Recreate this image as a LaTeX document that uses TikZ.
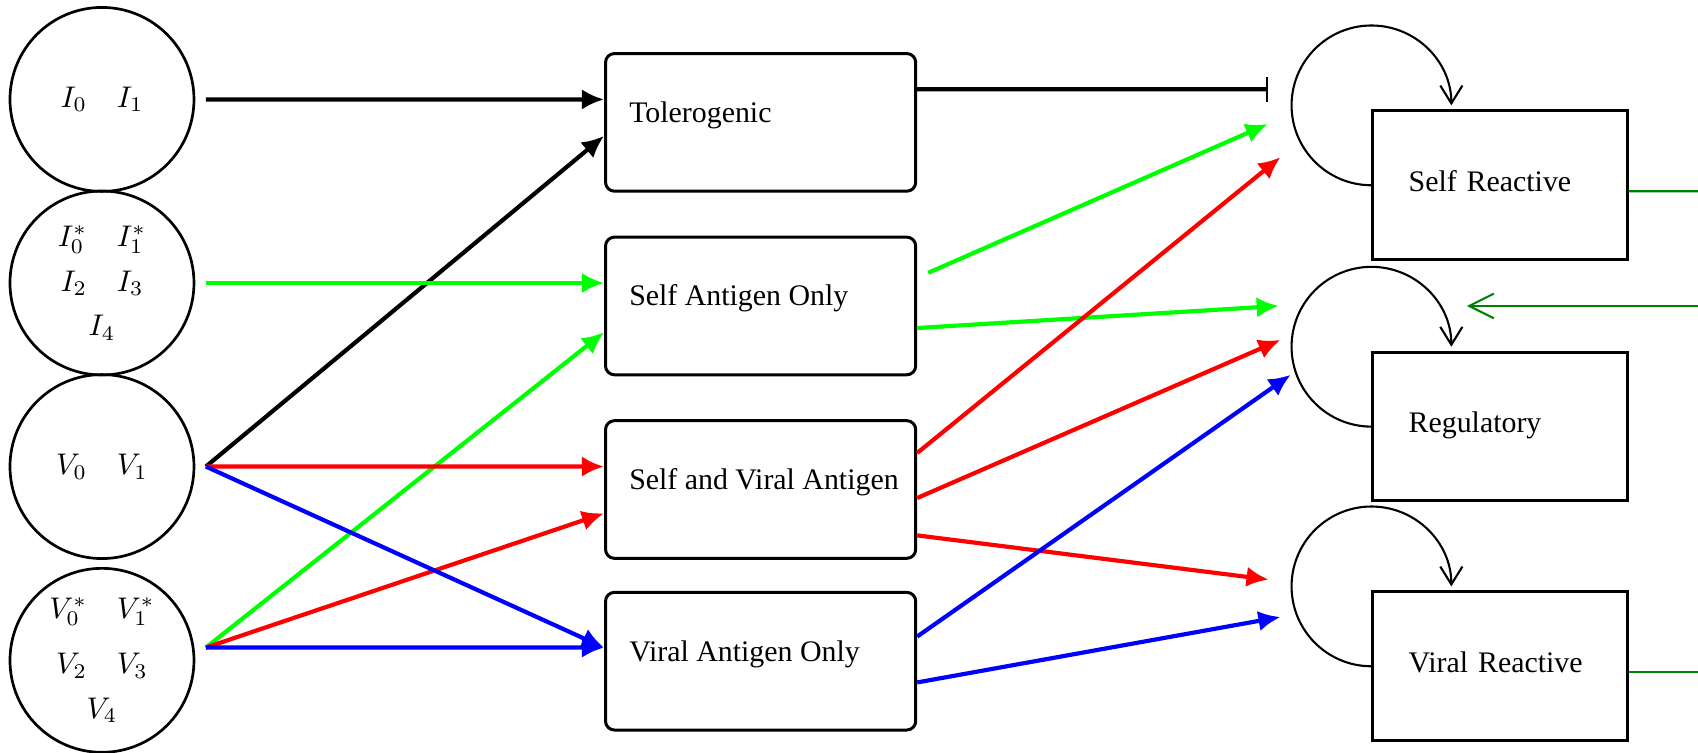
\documentclass[tikz,border=0pt]{standalone}
\usepackage[no-math]{fontspec}
\setmainfont{Liberation Serif}
\usepackage{tikz}
\usetikzlibrary{arrows.meta,calc,positioning}
\definecolor{FlowGreen}{RGB}{0,255,0}
\definecolor{FlowRed}{RGB}{255,0,0}
\definecolor{FlowBlue}{RGB}{0,0,255}
\definecolor{LinkGreen}{RGB}{0,128,0}

\begin{document}
\begin{tikzpicture}[
  x=1cm,
  y=1cm,
  pool/.style={
    draw=black,
    circle,
    line width=0.9pt,
    minimum size=2.165cm,
    inner sep=0pt,
    outer sep=0.14cm,
    align=center,
    font=\fontsize{10}{15}\selectfont
  },
  stage/.style={
    draw=black,
    rounded corners=3pt,
    line width=1pt,
    minimum width=3.65cm,
    minimum height=1.62cm
  },
  stagetext/.style={
    anchor=base west,
    inner sep=0pt
  },
  cellbox/.style={
    draw=black,
    line width=1pt,
    minimum width=2.99cm,
    minimum height=1.75cm,
    inner xsep=0.42cm,
    text width=2.15cm,
    align=left,
    text height=0.25cm,
    text depth=0.11cm
  },
  feed/.style={
    -{Latex[length=2.6mm,width=2.4mm]},
    line width=1.4pt
  },
  block/.style={
    -{Bar[width=2.9mm,line width=0.7pt]},
    line width=1.4pt
  },
  selfloop/.style={
    -{Straight Barb[length=2.1mm,width=2.6mm]},
    line width=0.7pt
  },
  link/.style={
    draw=LinkGreen,
    line width=0.7pt
  }
]
\useasboundingbox (0,0) rectangle (19.98,8.86);

\node[pool] (c1) at (1.20,7.69) {$I_0\quad I_1$};
\node[pool] (c2) at (1.20,5.53) {$I_0^*\quad I_1^*$\\$I_2\quad I_3$\\$I_4$};
\node[pool] (c3) at (1.20,3.37) {$V_0\quad V_1$};
\node[pool] (c4) at (1.20,1.09) {$V_0^*\quad V_1^*$\\[3.5pt]$V_2\quad V_3$\\$V_4$};

\node[stage] (tol) at (8.95,7.42) {};
\node[stage] (sao) at (8.95,5.26) {};
\node[stage] (sva) at (8.95,3.10) {};
\node[stage] (vao) at (8.95,1.08) {};
\node[stagetext] (toltext) at ($(tol.west)+(0.29,0)$) {Tolerogenic};
\node[stagetext] (saotext) at ($(sao.west)+(0.29,0)$) {Self Antigen Only};
\node[stagetext] (svatext) at ($(sva.west)+(0.29,0)$) {Self and Viral Antigen};
\node[stagetext] (vaotext) at ($(vao.west)+(0.29,0)$) {Viral Antigen Only};

\node[cellbox] (sr) at (17.65,6.68) {Self Reactive};
\node[cellbox] (reg) at (17.65,3.84) {Regulatory};
\node[cellbox] (vr) at (17.65,1.02) {Viral Reactive};

\foreach \n in {sr,reg,vr}
  \draw[selfloop] (\n.west) arc[start angle=270,end angle=0,radius=0.94];

\draw[feed] (c1.east) -- ($(tol.west)+(0,0.27)$);
\draw[feed] (c3.east) -- ($(tol.west)+(0,-0.16)$);
\draw[feed,FlowGreen] (c2.east) -- ($(sao.west)+(0,0.27)$);
\draw[feed,FlowGreen] ($(c4.east)+(0,0.15)$) -- ($(sao.west)+(0,-0.31)$);
\draw[feed,FlowRed] (c3.east) -- ($(sva.west)+(0,0.27)$);
\draw[feed,FlowRed] ($(c4.east)+(0,0.15)$) -- ($(sva.west)+(0,-0.28)$);
\draw[feed,FlowBlue] (c3.east) -- ($(vao.west)+(0,0.16)$);
\draw[feed,FlowBlue] ($(c4.east)+(0,0.15)$) -- ($(vao.west)+(0,0.16)$);

\draw[block] ($(tol.east)+(0,0.39)$) -- ($(sr.west)+(-1.22,1.13)$);
\draw[feed,FlowGreen] ($(sao.east)+(0.13,0.39)$) -- ($(sr.west)+(-1.22,0.72)$);
\draw[feed,FlowGreen] ($(sao.east)+(0,-0.26)$) -- ($(reg.west)+(-1.09,1.42)$);
\draw[feed,FlowRed] ($(sva.east)+(0,0.43)$) -- ($(sr.west)+(-1.07,0.33)$);
\draw[feed,FlowRed] ($(sva.east)+(0,-0.10)$) -- ($(reg.west)+(-1.07,1.02)$);
\draw[feed,FlowRed] ($(sva.east)+(0,-0.54)$) -- ($(vr.west)+(-1.21,1.02)$);
\draw[feed,FlowBlue] ($(vao.east)+(0,0.29)$) -- ($(reg.west)+(-0.95,0.61)$);
\draw[feed,FlowBlue] ($(vao.east)+(0,-0.25)$) -- ($(vr.west)+(-1.07,0.58)$);

\coordinate (srlink) at (19.98,6.61);
\coordinate (reglink) at (19.98,5.26);
\coordinate (vrlink) at (19.98,0.95);
\draw[link] ($(sr.east)+(0,-0.07)$) -- (srlink);
\draw[link] ($(vr.east)+(0,-0.07)$) -- (vrlink);
\draw[link,-{Straight Barb[length=2.9mm,width=2.9mm]}] (reglink) -- (reglink -| {$(reg.north)+(-0.39,0)$});

\end{tikzpicture}
\end{document}
